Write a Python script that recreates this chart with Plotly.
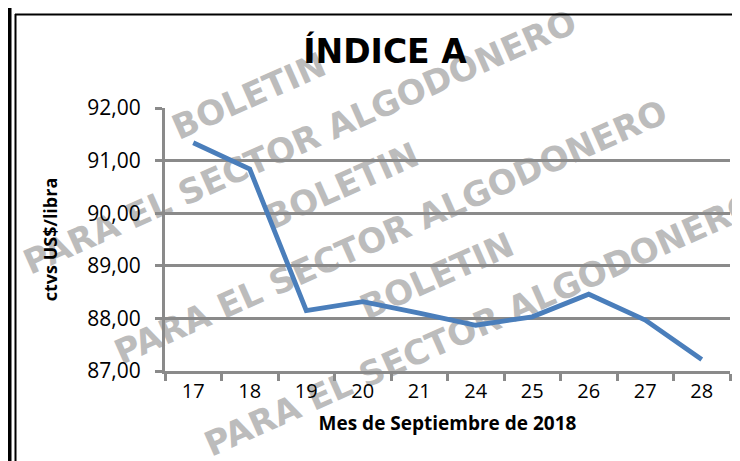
import math
import plotly.graph_objects as go

# ---- data ----
days = ["17", "18", "19", "20", "21", "24", "25", "26", "27", "28"]
index_a = [91.34, 90.84, 88.15, 88.32, 88.10, 87.87, 88.03, 88.46, 87.97, 87.22]
y_ticks = [87, 88, 89, 90, 91, 92]

title_text = "ÍNDICE A"
x_title = "Mes de Septiembre de 2018"
y_title = "ctvs US$/libra"
wm_top = "BOLETIN"
wm_bottom = "PARA EL SECTOR ALGODONERO"

# ---- layout geometry (pixels) ----
W, H = 740, 461
L, R, T, B = 157, 18, 100, 98
PW, PH = W - L - R, H - T - B


def px(x):
    return (x - L) / PW


def py(y):
    return (H - B - y) / PH


GRID = "#8a8a8a"
FONT = "Open Sans"

fig = go.Figure()
fig.add_trace(go.Scatter(
    x=days, y=index_a, mode="lines",
    line=dict(color="#4a7ebb", width=4.8),
    showlegend=False, hoverinfo="skip",
))

shapes = []
# frame lines
shapes.append(dict(type="rect", xref="paper", yref="paper",
                   x0=px(0), x1=px(3.5), y0=py(H), y1=py(0),
                   fillcolor="black", line=dict(width=0), layer="above"))
shapes.append(dict(type="line", xref="paper", yref="paper",
                   x0=px(7.5), x1=px(7.5), y0=py(H), y1=py(6),
                   line=dict(color="black", width=2), layer="above"))
shapes.append(dict(type="line", xref="paper", yref="paper",
                   x0=px(7), x1=px(W), y0=py(6.5), y1=py(6.5),
                   line=dict(color="black", width=2), layer="above"))

# watermark (drawn below traces)
ANG = 24
ang = math.radians(ANG)
wm_items = [
    (wm_top, 240, 86), (wm_top, 333, 176), (wm_top, 428, 266),
    (wm_bottom, 291, 132), (wm_bottom, 382, 222), (wm_bottom, 472, 314),
]
for txt, cx, cy in wm_items:
    d = 40
    shapes.append(dict(
        type="line", xref="paper", yref="paper",
        x0=px(cx - d * math.cos(ang)), y0=py(cy + d * math.sin(ang)),
        x1=px(cx + d * math.cos(ang)), y1=py(cy - d * math.sin(ang)),
        line=dict(color="rgba(0,0,0,0)", width=0), layer="below",
        label=dict(text="<b>" + txt + "</b>", textposition="middle",
                   textangle=-ANG, padding=0,
                   xanchor="center", yanchor="middle",
                   font=dict(family="DejaVu Sans", size=34, color="#bcbcbc")),
    ))

fig.update_layout(
    width=W, height=H,
    margin=dict(l=L, r=R, t=T, b=B),
    paper_bgcolor="white", plot_bgcolor="rgba(0,0,0,0)",
    separators=",.",
    font=dict(family=FONT, color="black"),
    title=dict(text="<b>" + title_text + "</b>", x=377 / W, xref="container",
               y=1 - 43 / H, yref="container", xanchor="center", yanchor="middle",
               font=dict(family="DejaVu Sans", size=33, color="black")),
    shapes=shapes,
)
fig.update_xaxes(
    type="category", categoryorder="array", categoryarray=days,
    range=[-0.5, len(days) - 0.5],
    showgrid=False, showline=True, linecolor=GRID, linewidth=3,
    ticks="outside", tickson="boundaries", ticklen=7, tickwidth=2.5, tickcolor=GRID,
    tickfont=dict(family=FONT, size=20, color="black"),
    title=dict(text="<b>" + x_title + "</b>", standoff=14,
               font=dict(family=FONT, size=19, color="black")),
    zeroline=False,
)
fig.update_yaxes(
    range=[87, 92], tickvals=y_ticks, tickformat=".2f",
    showgrid=True, gridcolor=GRID, gridwidth=2.5,
    showline=True, linecolor=GRID, linewidth=3,
    ticks="outside", ticklen=7, tickwidth=2.5, tickcolor=GRID,
    ticklabelstandoff=10,
    tickfont=dict(family=FONT, size=21, color="black"),
    title=dict(text="<b>" + y_title + "</b>", standoff=26,
               font=dict(family=FONT, size=18, color="black")),
    zeroline=False,
)

fig.write_html("out.html")
